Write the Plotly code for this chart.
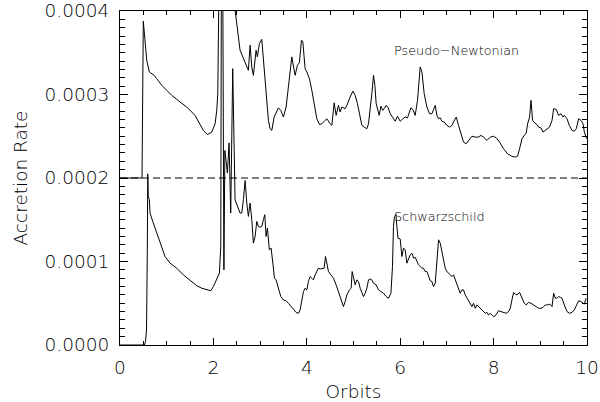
import numpy as np
import plotly.graph_objects as go

# Values in units of 1e-4 (accretion rate)
UNIT = 1e-4
PN_OFFSET = 2.0  # Pseudo-Newtonian curve is shifted up by 0.0002

pn_x = [0, 0.471, 0.499, 0.521, 0.572, 0.628, 0.679, 0.729, 0.786, 0.894, 1.001, 1.108, 1.286, 1.429,
        1.607, 1.714, 1.785, 1.871, 1.965, 2.036, 2.072, 2.094, 2.106, 2.132, 2.25, 2.40, 2.571, 2.715,
        2.749, 2.786, 2.822, 2.856, 2.914, 2.942, 2.985, 3.036, 3.071, 3.128, 3.178, 3.214, 3.251, 3.300,
        3.358, 3.392, 3.443, 3.499, 3.557, 3.606, 3.679, 3.750, 3.799, 3.842, 3.885, 3.915, 3.964, 4.001,
        4.056, 4.108, 4.157, 4.215, 4.271, 4.322, 4.393, 4.429, 4.500, 4.536, 4.586, 4.628, 4.678, 4.714,
        4.751, 4.821, 4.858, 4.892, 4.928, 4.986, 5.036, 5.085, 5.143, 5.179, 5.228, 5.286, 5.321, 5.357,
        5.393, 5.428, 5.458, 5.486, 5.514, 5.550, 5.586, 5.629, 5.657, 5.700, 5.743, 5.786, 5.835, 5.893,
        5.942, 6.000, 6.058, 6.107, 6.156, 6.229, 6.272, 6.321, 6.371, 6.428, 6.465, 6.514, 6.572, 6.628,
        6.679, 6.714, 6.750, 6.786, 6.821, 6.857, 6.893, 6.943, 7.000, 7.056, 7.108, 7.142, 7.200, 7.249,
        7.301, 7.356, 7.414, 7.463, 7.536, 7.607, 7.678, 7.729, 7.785, 7.858, 7.928, 7.999, 8.057, 8.128,
        8.213, 8.299, 8.393, 8.464, 8.513, 8.556, 8.608, 8.657, 8.700, 8.728, 8.771, 8.801, 8.835, 8.878,
        8.929, 8.963, 9.015, 9.058, 9.107, 9.156, 9.199, 9.251, 9.285, 9.343, 9.392, 9.443, 9.486, 9.514,
        9.572, 9.621, 9.679, 9.728, 9.771, 9.821, 9.872, 9.915, 9.943, 9.979, 10.0]
pn_rate = [0, 0, 1.88, 1.73, 1.41, 1.27, 1.25, 1.23, 1.19, 1.11, 1.05, 0.99, 0.91, 0.85,
           0.75, 0.65, 0.57, 0.52, 0.55, 0.65, 0.81, 1.01, 1.33, 3.0, 3.5, 2.3, 1.53, 1.35,
           1.29, 1.59, 1.33, 1.23, 1.53, 1.45, 1.61, 1.66, 1.41, 1.01, 0.69, 0.59, 0.57, 0.73,
           0.81, 0.84, 0.81, 0.73, 0.85, 1.09, 1.45, 1.23, 1.35, 1.38, 1.65, 1.63, 1.31, 1.27,
           1.19, 1.05, 0.89, 0.71, 0.64, 0.65, 0.69, 0.71, 0.65, 0.63, 0.90, 0.75, 0.87, 0.79,
           0.85, 0.83, 0.87, 0.93, 0.97, 1.04, 0.99, 0.89, 0.73, 0.63, 0.61, 0.59, 0.65, 0.81,
           1.01, 1.23, 1.11, 0.89, 0.81, 0.75, 0.86, 0.81, 0.83, 0.87, 0.84, 0.77, 0.73, 0.68,
           0.74, 0.68, 0.71, 0.73, 0.72, 0.84, 0.82, 0.75, 0.93, 1.33, 1.27, 1.01, 0.85, 0.77,
           0.77, 0.81, 0.87, 0.75, 0.71, 0.72, 0.68, 0.67, 0.63, 0.61, 0.63, 0.67, 0.73, 0.63,
           0.53, 0.43, 0.41, 0.45, 0.50, 0.49, 0.49, 0.51, 0.49, 0.45, 0.49, 0.50, 0.48, 0.43,
           0.35, 0.29, 0.26, 0.25, 0.26, 0.35, 0.47, 0.51, 0.54, 0.65, 0.73, 0.93, 0.69, 0.66,
           0.64, 0.61, 0.60, 0.55, 0.57, 0.59, 0.61, 0.69, 0.83, 0.82, 0.75, 0.77, 0.73, 0.75,
           0.71, 0.63, 0.57, 0.56, 0.59, 0.71, 0.69, 0.65, 0.55, 0.49, 0.47]

s_x = [0, 0.521, 0.546, 0.568, 0.585, 0.594, 0.606, 0.628, 0.643, 0.701, 0.750, 0.821, 0.894, 0.964,
       1.071, 1.215, 1.356, 1.500, 1.644, 1.751, 1.858, 1.944, 2.000, 2.072, 2.128, 2.158, 2.171, 2.199,
       2.225, 2.246, 2.300, 2.336, 2.371, 2.414, 2.464, 2.571, 2.608, 2.642, 2.679, 2.715, 2.749, 2.786,
       2.822, 2.856, 2.893, 2.929, 2.963, 3.000, 3.036, 3.071, 3.101, 3.128, 3.157, 3.199, 3.236, 3.285,
       3.307, 3.343, 3.392, 3.443, 3.499, 3.557, 3.606, 3.657, 3.713, 3.771, 3.821, 3.857, 3.894, 3.928,
       3.964, 4.001, 4.035, 4.071, 4.108, 4.142, 4.178, 4.215, 4.250, 4.286, 4.343, 4.371, 4.400, 4.429,
       4.464, 4.515, 4.571, 4.628, 4.678, 4.729, 4.785, 4.821, 4.858, 4.914, 4.950, 4.971, 4.999, 5.036,
       5.072, 5.107, 5.143, 5.179, 5.214, 5.250, 5.286, 5.321, 5.357, 5.393, 5.428, 5.486, 5.535, 5.586,
       5.642, 5.700, 5.749, 5.801, 5.835, 5.856, 5.878, 5.908, 5.929, 5.951, 6.000, 6.036, 6.071, 6.107,
       6.143, 6.178, 6.214, 6.251, 6.285, 6.321, 6.358, 6.392, 6.428, 6.465, 6.499, 6.536, 6.572, 6.606,
       6.643, 6.679, 6.714, 6.750, 6.786, 6.821, 6.857, 6.893, 6.928, 6.964, 7.000, 7.035, 7.071, 7.108,
       7.142, 7.178, 7.215, 7.249, 7.285, 7.322, 7.356, 7.392, 7.429, 7.463, 7.500, 7.536, 7.570, 7.607,
       7.643, 7.678, 7.714, 7.751, 7.785, 7.821, 7.858, 7.892, 7.928, 7.964, 7.999, 8.036, 8.072, 8.107,
       8.158, 8.213, 8.271, 8.320, 8.357, 8.393, 8.428, 8.464, 8.501, 8.556, 8.608, 8.657, 8.700, 8.749,
       8.801, 8.857, 8.914, 8.963, 9.015, 9.058, 9.107, 9.156, 9.199, 9.251, 9.285, 9.321, 9.357, 9.392,
       9.428, 9.465, 9.514, 9.572, 9.628, 9.679, 9.728, 9.786, 9.821, 9.872, 9.915, 9.943, 9.979]
s_rate = [0, 0, 0.04, 0.18, 1.14, 2.05, 1.78, 1.74, 1.58, 1.48, 1.40, 1.28, 1.16, 1.06,
          0.98, 0.92, 0.84, 0.78, 0.71, 0.68, 0.66, 0.65, 0.70, 0.78, 0.86, 1.18, 4.6, 4.6,
          0.9, 2.33, 2.06, 2.42, 1.58, 3.31, 1.74, 1.58, 1.58, 1.74, 1.97, 1.70, 1.54, 1.70,
          1.50, 1.22, 1.30, 1.48, 1.42, 1.41, 1.42, 1.50, 1.56, 1.30, 1.40, 1.14, 1.16, 0.92,
          0.80, 0.78, 0.68, 0.58, 0.54, 0.53, 0.50, 0.46, 0.43, 0.39, 0.38, 0.42, 0.54, 0.64,
          0.68, 0.66, 0.76, 0.82, 0.80, 0.78, 0.84, 0.88, 0.92, 0.91, 0.92, 0.92, 1.06, 0.98,
          0.88, 0.84, 0.80, 0.72, 0.64, 0.56, 0.46, 0.52, 0.60, 0.66, 0.68, 0.88, 0.80, 0.72,
          0.78, 0.76, 0.68, 0.62, 0.58, 0.62, 0.68, 0.78, 0.79, 0.78, 0.74, 0.72, 0.66, 0.64,
          0.62, 0.58, 0.56, 0.62, 0.94, 1.42, 1.54, 1.56, 1.46, 1.28, 1.27, 1.06, 1.16, 1.14,
          0.98, 1.04, 1.08, 1.10, 1.04, 1.05, 1.00, 0.96, 0.94, 0.92, 0.92, 0.88, 0.88, 0.82,
          0.77, 0.76, 0.70, 0.74, 0.98, 1.26, 1.22, 1.12, 1.00, 0.92, 0.88, 0.86, 0.84, 0.82,
          0.84, 0.78, 0.74, 0.68, 0.62, 0.66, 0.66, 0.60, 0.56, 0.52, 0.48, 0.46, 0.50, 0.44,
          0.48, 0.46, 0.44, 0.42, 0.40, 0.38, 0.39, 0.36, 0.38, 0.36, 0.34, 0.35, 0.38, 0.41,
          0.40, 0.39, 0.38, 0.40, 0.44, 0.54, 0.63, 0.61, 0.60, 0.63, 0.56, 0.50, 0.48, 0.51,
          0.50, 0.48, 0.45, 0.44, 0.44, 0.45, 0.48, 0.48, 0.49, 0.46, 0.62, 0.56, 0.56, 0.58,
          0.57, 0.56, 0.48, 0.40, 0.38, 0.39, 0.42, 0.48, 0.53, 0.52, 0.50, 0.49, 0.56]

y_tickvals = [0, 1e-4, 2e-4, 3e-4, 4e-4]
y_ticktext = ["0.0000", "0.0001", "0.0002", "0.0003", "0.0004"]
x_tickvals = [0, 2, 4, 6, 8, 10]
x_ticktext = ["0", "2", "4", "6", "8", "10"]

FONT = dict(family="DejaVu Sans", color="black", weight=200)

fig = go.Figure()
fig.add_trace(go.Scatter(x=pn_x, y=(np.array(pn_rate) + PN_OFFSET) * UNIT, mode="lines",
                         line=dict(color="black", width=1), name="Pseudo-Newtonian"))
fig.add_trace(go.Scatter(x=s_x, y=np.array(s_rate) * UNIT, mode="lines",
                         line=dict(color="black", width=1), name="Schwarzschild"))

fig.add_shape(type="line", xref="x", yref="y", x0=0, x1=10, y0=PN_OFFSET * UNIT, y1=PN_OFFSET * UNIT,
              line=dict(color="black", width=1, dash="7px,4px"), layer="below")

fig.add_annotation(x=5.83, y=3.53e-4, text="Pseudo\u2212Newtonian", showarrow=False,
                   xanchor="left", yanchor="middle", font=dict(size=12.8, **FONT))
fig.add_annotation(x=5.83, y=1.54e-4, text="Schwarzschild", showarrow=False,
                   xanchor="left", yanchor="middle", font=dict(size=12.8, **FONT))

axis_common = dict(showgrid=False, zeroline=False, showline=True, linecolor="black", linewidth=1,
                   mirror="allticks", ticks="inside", tickcolor="black", tickwidth=1,
                   tickfont=dict(size=18.5, **FONT), automargin=False)

fig.update_xaxes(range=[0, 10], tickvals=x_tickvals, ticktext=x_ticktext, ticklen=7,
                 minor=dict(dtick=0.5, ticklen=4, ticks="inside", tickcolor="black", showgrid=False),
                 title=dict(text="Orbits", font=dict(size=18.5, **FONT), standoff=8),
                 ticklabelstandoff=6, **axis_common)
fig.update_yaxes(range=[0, 4e-4], tickvals=y_tickvals, ticktext=y_ticktext, ticklen=8,
                 minor=dict(dtick=1e-5, ticklen=5, ticks="inside", tickcolor="black", showgrid=False),
                 title=dict(text="Accretion Rate", font=dict(size=18.5, **FONT), standoff=12),
                 ticklabelstandoff=6, **axis_common)

fig.update_layout(width=600, height=402, margin=dict(l=120, r=13, t=11, b=57),
                  plot_bgcolor="white", paper_bgcolor="white", showlegend=False)

fig.write_html("out.html")
